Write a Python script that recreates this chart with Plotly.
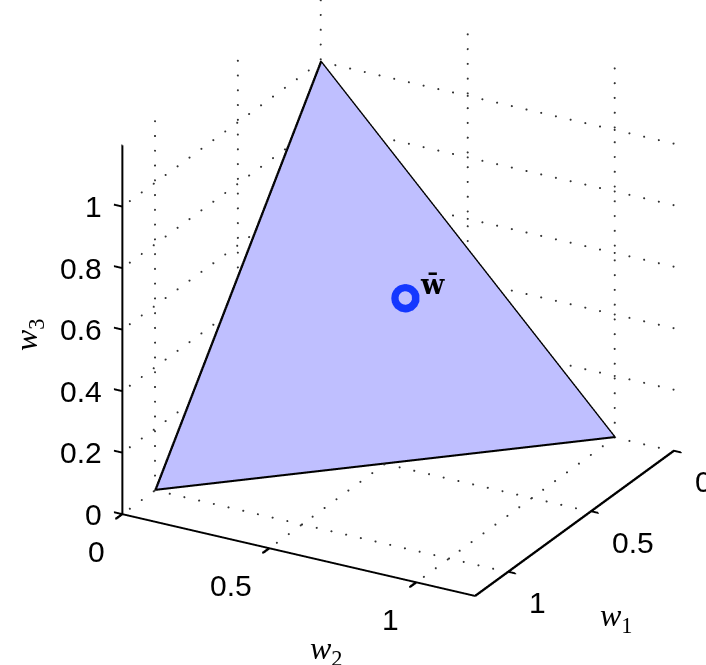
import numpy as np
import plotly.graph_objects as go

# ---------------- data ----------------
vert_w1 = [1, 0, 0]
vert_w2 = [0, 1, 0]
vert_w3 = [0, 0, 1]
wbar = [0.2, 0.4, 0.4]          # (w1, w2, w3) of the marked point
ticks_w1 = [0, 0.5, 1]
ticks_w2 = [0, 0.5, 1]
ticks_w3 = [0, 0.2, 0.4, 0.6, 0.8, 1]
labels_w1 = ["0", "0.5", "1"]
labels_w2 = ["0", "0.5", "1"]
labels_w3 = ["0", "0.2", "0.4", "0.6", "0.8", "1"]
axis_max = 1.2

# ---------------- style ----------------
FILL = "rgb(191,191,255)"
BLUE = "rgb(20,55,255)"
TICKFONT = dict(family="Liberation Sans, Arial, sans-serif", size=30, color="black")
TITLEFONT = dict(family="Liberation Serif, Times New Roman, serif", size=32, color="black")
DOT_STEP = (0.072, 0.05, 0.048)   # spacing of grid dots along w1, w2, w3 (about 15 px)
# sub-pixel stroke offsets used to thicken WebGL lines (about 1 px on screen)
STROKE_OFFSETS = [(0, 0, 0), (0, 0, 0.003), (-0.0014, 0.0026, 0)]

fig = go.Figure()


def seg_xyz(segs, off=(0, 0, 0)):
    xs, ys, zs = [], [], []
    for (a, b) in segs:
        xs += [a[0] + off[0], b[0] + off[0], None]
        ys += [a[1] + off[1], b[1] + off[1], None]
        zs += [a[2] + off[2], b[2] + off[2], None]
    return xs, ys, zs


def add_thick(segs, color, scene="scene"):
    for off in STROKE_OFFSETS:
        xs, ys, zs = seg_xyz(segs, off)
        fig.add_trace(go.Scatter3d(x=xs, y=ys, z=zs, mode="lines", scene=scene,
                                   line=dict(color=color, width=2),
                                   hoverinfo="skip", showlegend=False, connectgaps=False))


M = axis_max
grid = []
# wall w1 = 0
for t in ticks_w2:
    grid.append(((0, t, 0), (0, t, M)))
for t in ticks_w3:
    grid.append(((0, 0, t), (0, M, t)))
# wall w2 = 0
for t in ticks_w1:
    grid.append(((t, 0, 0), (t, 0, M)))
for t in ticks_w3:
    grid.append(((0, 0, t), (M, 0, t)))
# floor w3 = 0
for t in ticks_w1:
    grid.append(((t, 0, 0), (t, M, 0)))
for t in ticks_w2:
    grid.append(((0, t, 0), (M, t, 0)))

# dotted grid lines drawn as fine dots (MATLAB ':' style)
gx, gy, gz = [], [], []
for a, b in grid:
    axis = [i for i in range(3) if a[i] != b[i]][0]
    steps = np.arange(0, M + 1e-9, DOT_STEP[axis])
    for s in steps:
        p = list(a)
        p[axis] = s
        gx.append(p[0]); gy.append(p[1]); gz.append(p[2])
fig.add_trace(go.Scatter3d(x=gx, y=gy, z=gz, mode="markers",
                           marker=dict(size=1.2, color="rgb(50,50,50)", line=dict(width=0)),
                           hoverinfo="skip", showlegend=False))

# axis lines + tick marks
axes = [((M, 0, 0), (M, 0, M)),      # w3 axis
        ((M, 0, 0), (M, M, 0)),      # w2 axis
        ((0, M, 0), (M, M, 0))]      # w1 axis
for t in ticks_w3:
    axes.append(((M, 0, t), (M, -0.027, t)))
for t in ticks_w2:
    axes.append(((M, t, 0), (M + 0.04, t, 0)))
for t in ticks_w1:
    axes.append(((t, M, 0), (t, M + 0.025, 0)))
add_thick(axes, "black")

# simplex triangle
fig.add_trace(go.Mesh3d(x=vert_w1, y=vert_w2, z=vert_w3, i=[0], j=[1], k=[2],
                        color=FILL, opacity=1, flatshading=True,
                        lighting=dict(ambient=1, diffuse=0, specular=0, roughness=1, fresnel=0),
                        hoverinfo="skip", showscale=False))
edges = [((vert_w1[i], vert_w2[i], vert_w3[i]),
          (vert_w1[(i + 1) % 3], vert_w2[(i + 1) % 3], vert_w3[(i + 1) % 3])) for i in range(3)]
add_thick(edges, "black")

# the point w-bar: blue disk (overlay scene2) with a hole (overlay scene3)
fig.add_trace(go.Scatter3d(x=[wbar[0]], y=[wbar[1]], z=[wbar[2]], mode="markers", scene="scene2",
                           marker=dict(symbol="circle", size=16.5, color=BLUE),
                           hoverinfo="skip", showlegend=False))
fig.add_trace(go.Scatter3d(x=[wbar[0]], y=[wbar[1]], z=[wbar[2]], mode="markers", scene="scene3",
                           marker=dict(symbol="circle", size=7.8, color=FILL),
                           hoverinfo="skip", showlegend=False))

# ---------------- annotations (tick labels) ----------------
ann = []
for t, s in zip(ticks_w3, labels_w3):
    ann.append(dict(x=M, y=0, z=t, text=s, showarrow=False, xanchor="right", yanchor="middle",
                    xshift=-18, yshift=0, font=TICKFONT))
for t, s in zip(ticks_w2, labels_w2):
    ann.append(dict(x=M, y=t, z=0, text=s, showarrow=False, xanchor="right", yanchor="top",
                    xshift=-15, yshift=-18, font=TICKFONT))
for t, s in zip(ticks_w1, labels_w1):
    ann.append(dict(x=t, y=M, z=0, text=s, showarrow=False, xanchor="left", yanchor="top",
                    xshift=19, yshift=-12, font=TICKFONT))
ann.append(dict(x=wbar[0], y=wbar[1], z=wbar[2], text="<b>w\u0304</b>", showarrow=False,
                xanchor="left", yanchor="middle", xshift=13, yshift=13,
                font=dict(family="DejaVu Serif, serif", size=27, color="black")))

# camera (orthographic), derived from MATLAB-like view
phi = np.deg2rad(29.4)
theta = np.deg2rad(24.3)
L = 4.0
eye = dict(x=float(L * np.cos(phi) * np.cos(theta)),
           y=float(L * np.sin(phi) * np.cos(theta)),
           z=float(L * np.sin(theta)))

h = 1.0
cen = (0.6, 0.448, 0.455)
ASPECT = 2.03


def scene_cfg(with_ann):
    ax_common = dict(visible=False, showspikes=False)
    d = dict(
        domain=dict(x=[0, 1], y=[0, 1]),
        xaxis=dict(range=[cen[0] - h, cen[0] + h], **ax_common),
        yaxis=dict(range=[cen[1] - h, cen[1] + h], **ax_common),
        zaxis=dict(range=[cen[2] - h, cen[2] + h], **ax_common),
        aspectmode="manual",
        aspectratio=dict(x=ASPECT, y=ASPECT, z=ASPECT),
        camera=dict(eye=eye, up=dict(x=0, y=0, z=1), center=dict(x=0, y=0, z=0),
                    projection=dict(type="orthographic")),
        bgcolor="rgba(0,0,0,0)",
    )
    if with_ann:
        d["annotations"] = ann
    return d


fig.update_layout(
    width=706, height=665, margin=dict(l=0, r=0, t=0, b=0),
    paper_bgcolor="white", showlegend=False, hovermode=False,
    scene=scene_cfg(True),
    scene2=scene_cfg(False),
    scene3=scene_cfg(False),
    annotations=[
        dict(x=28 / 706, y=1 - 335 / 665, xref="paper", yref="paper", text="<i>w</i><sub>3</sub>",
             showarrow=False, textangle=-90, font=TITLEFONT, xanchor="center", yanchor="middle"),
        dict(x=326 / 706, y=1 - 650 / 665, xref="paper", yref="paper", text="<i>w</i><sub>2</sub>",
             showarrow=False, font=TITLEFONT, xanchor="center", yanchor="middle"),
        dict(x=616 / 706, y=1 - 617 / 665, xref="paper", yref="paper", text="<i>w</i><sub>1</sub>",
             showarrow=False, font=TITLEFONT, xanchor="center", yanchor="middle"),
    ],
)

fig.write_html("out.html")
